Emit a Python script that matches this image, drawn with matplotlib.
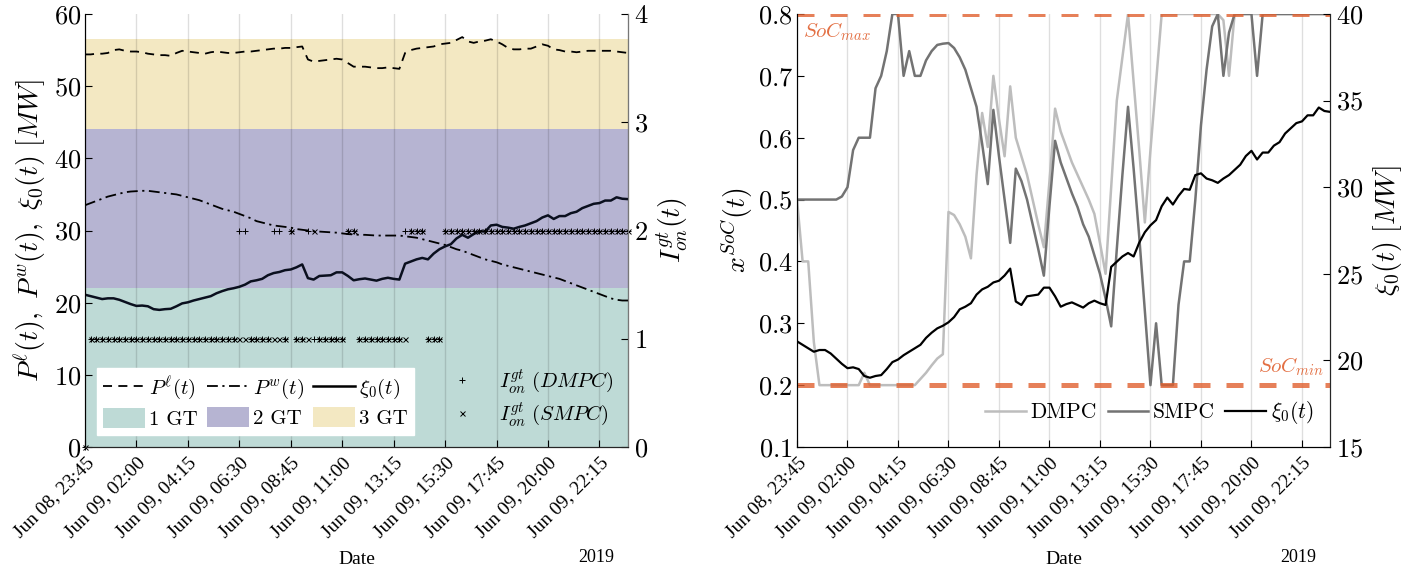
import matplotlib
matplotlib.use("Agg")
import matplotlib.pyplot as plt
from matplotlib.lines import Line2D
from matplotlib.patches import Patch
import pandas as pd

plt.rcParams['font.family'] = 'cmr10'
plt.rcParams['mathtext.fontset'] = 'cm'
plt.rcParams['axes.formatter.use_mathtext'] = True

# 15-minute samples over one day
times = pd.date_range('2019-06-08 23:45', periods=96, freq='15min')
tick_labels = ['Jun 08, 23:45', 'Jun 09, 02:00', 'Jun 09, 04:15', 'Jun 09, 06:30',
               'Jun 09, 08:45', 'Jun 09, 11:00', 'Jun 09, 13:15', 'Jun 09, 15:30',
               'Jun 09, 17:45', 'Jun 09, 20:00', 'Jun 09, 22:15']

# Load demand P^l [MW]
p_load = [54.4, 54.4, 54.5, 54.5, 54.6, 55.0, 55.1, 54.9, 54.8, 54.8, 54.7, 54.5,
          54.4, 54.3, 54.3, 54.2, 54.6, 54.9, 54.8, 54.7, 54.6, 54.5, 54.7, 54.8,
          54.7, 54.6, 54.6, 54.7, 54.8, 54.8, 54.9, 55.0, 55.1, 55.2, 55.2, 55.3,
          55.3, 55.4, 55.5, 53.7, 53.4, 53.5, 53.6, 53.7, 53.8, 53.7, 53.2, 52.7,
          52.7, 52.7, 52.6, 52.5, 52.5, 52.6, 52.5, 52.4, 54.6, 55.0, 55.2, 55.3,
          55.4, 55.5, 55.8, 55.9, 56.0, 56.4, 56.8, 56.2, 56.0, 56.2, 56.3, 56.5,
          56.2, 55.8, 55.3, 55.1, 55.1, 55.2, 55.2, 55.5, 55.8, 55.6, 55.1, 55.0,
          54.8, 54.8, 54.7, 54.8, 54.9, 54.9, 54.9, 54.9, 54.9, 54.8, 54.7, 54.6]

# Wind power P^w [MW]
p_wind = [33.5, 33.8, 34.1, 34.4, 34.7, 34.9, 35.1, 35.3, 35.4, 35.45, 35.5, 35.5,
          35.4, 35.3, 35.2, 35.1, 35.0, 34.8, 34.6, 34.4, 34.2, 33.9, 33.6, 33.3,
          33.0, 32.8, 32.6, 32.3, 32.0, 31.7, 31.3, 31.1, 30.9, 30.7, 30.6, 30.5,
          30.4, 30.2, 30.1, 30.0, 29.9, 29.85, 29.8, 29.75, 29.7, 29.6, 29.5, 29.45,
          29.4, 29.4, 29.35, 29.3, 29.3, 29.3, 29.3, 29.3, 29.2, 29.1, 29.0, 28.8,
          28.6, 28.4, 28.2, 28.0, 27.7, 27.4, 27.2, 26.9, 26.6, 26.3, 26.0, 25.8,
          25.6, 25.3, 25.1, 24.9, 24.7, 24.5, 24.3, 24.1, 23.9, 23.7, 23.5, 23.3,
          23.0, 22.7, 22.4, 22.1, 21.8, 21.5, 21.2, 20.9, 20.6, 20.4, 20.3, 20.3]

# Net load xi_0 [MW]
xi0 = [21.1, 20.9, 20.7, 20.5, 20.6, 20.6, 20.4, 20.1, 19.8, 19.55, 19.6, 19.5,
       19.1, 19.0, 19.1, 19.15, 19.5, 19.9, 20.05, 20.3, 20.5, 20.7, 20.9, 21.3,
       21.6, 21.85, 22.0, 22.2, 22.5, 22.95, 23.1, 23.3, 23.8, 24.1, 24.25, 24.5,
       24.6, 24.9, 25.3, 23.4, 23.2, 23.7, 23.75, 23.8, 24.2, 24.2, 23.7, 23.1,
       23.25, 23.35, 23.2, 23.05, 23.3, 23.45, 23.3, 23.2, 25.4, 25.7, 26.0, 26.2,
       26.0, 26.8, 27.4, 27.8, 28.1, 28.9, 29.4, 29.0, 29.5, 29.9, 29.85, 30.7,
       30.8, 30.5, 30.4, 30.25, 30.5, 30.7, 31.0, 31.3, 31.8, 32.1, 31.6, 32.0,
       32.0, 32.4, 32.6, 33.1, 33.4, 33.7, 33.8, 34.15, 34.15, 34.6, 34.4, 34.35]

# Number of gas turbines on
on_dmpc = [0, 1, 1, 1, 1, 1, 1, 1, 1, 1, 1, 1, 1, 1, 1, 1, 1, 1, 1, 1, 1, 1, 1, 1,
           1, 1, 1, 2, 2, 1, 1, 1, 1, 2, 2, 1, 2, 1, 1, 2, 1, 1, 1, 1, 1, 1, 2, 2,
           1, 1, 1, 1, 1, 1, 1, 1, 2, 2, 2, 2, 1, 1, 1, 2, 2, 2, 2, 2, 2, 2, 2, 2,
           2, 2, 2, 2, 2, 2, 2, 2, 2, 2, 2, 2, 2, 2, 2, 2, 2, 2, 2, 2, 2, 2, 2, 2]
on_smpc = [0, 1, 1, 1, 1, 1, 1, 1, 1, 1, 1, 1, 1, 1, 1, 1, 1, 1, 1, 1, 1, 1, 1, 1,
           1, 1, 1, 1, 1, 1, 1, 1, 1, 1, 1, 1, 2, 1, 1, 1, 2, 1, 1, 1, 1, 1, 2, 2,
           1, 1, 1, 1, 1, 1, 1, 1, 1, 2, 2, 2, 1, 1, 1, 2, 2, 2, 2, 2, 2, 2, 2, 2,
           2, 2, 2, 2, 2, 2, 2, 2, 2, 2, 2, 2, 2, 2, 2, 2, 2, 2, 2, 2, 2, 2, 2, 2]

# Battery state of charge
soc_dmpc = [0.50, 0.40, 0.40, 0.27, 0.20, 0.20, 0.20, 0.20, 0.20, 0.20, 0.20, 0.20,
            0.22, 0.20, 0.20, 0.20, 0.20, 0.20, 0.20, 0.20, 0.20, 0.20, 0.21, 0.22,
            0.232, 0.243, 0.25, 0.48, 0.475, 0.46, 0.44, 0.405, 0.54, 0.64, 0.585, 0.70,
            0.63, 0.57, 0.683, 0.60, 0.57, 0.54, 0.50, 0.46, 0.423, 0.53, 0.647, 0.61,
            0.585, 0.56, 0.54, 0.52, 0.50, 0.477, 0.43, 0.38, 0.52, 0.66, 0.73, 0.80,
            0.69, 0.58, 0.463, 0.58, 0.69, 0.80, 0.80, 0.80, 0.80, 0.80, 0.80, 0.80,
            0.80, 0.80, 0.80, 0.80, 0.79, 0.70, 0.80, 0.80, 0.80, 0.80, 0.80, 0.80,
            0.80, 0.80, 0.80, 0.80, 0.80, 0.80, 0.80, 0.80, 0.80, 0.80, 0.80, 0.80]
soc_smpc = [0.50, 0.50, 0.50, 0.50, 0.50, 0.50, 0.50, 0.50, 0.505, 0.52, 0.58, 0.60,
            0.60, 0.60, 0.68, 0.70, 0.74, 0.80, 0.80, 0.70, 0.74, 0.70, 0.70, 0.725,
            0.74, 0.75, 0.752, 0.753, 0.745, 0.73, 0.71, 0.68, 0.65, 0.59, 0.525, 0.645,
            0.57, 0.50, 0.43, 0.55, 0.53, 0.50, 0.46, 0.42, 0.377, 0.49, 0.595, 0.56,
            0.535, 0.51, 0.488, 0.46, 0.44, 0.41, 0.38, 0.34, 0.295, 0.42, 0.54, 0.65,
            0.55, 0.44, 0.32, 0.20, 0.30, 0.20, 0.20, 0.20, 0.33, 0.40, 0.40, 0.50,
            0.62, 0.71, 0.78, 0.80, 0.70, 0.77, 0.80, 0.80, 0.80, 0.80, 0.70, 0.80,
            0.80, 0.80, 0.80, 0.80, 0.80, 0.80, 0.80, 0.80, 0.80, 0.80, 0.80, 0.80]

soc_min, soc_max = 0.2, 0.8
gt_bands = [(0, 22), (22, 44), (44, 56.5)]
gt_labels = ['1 GT', '2 GT', '3 GT']
gt_colors = ['#bedad6', '#b6b4d2', '#f3e8c2']

tick_times = times[::9]
orange = '#e0602f'
serif = 'Liberation Serif'
TICK_FS = 19


def style_date_axis(ax):
    ax.set_xlim(times[0], times[-1])
    ax.set_xticks(tick_times)
    ax.set_xticklabels(tick_labels, rotation=45, ha='right', va='top',
                       rotation_mode='anchor', fontfamily=serif, fontsize=14)
    ax.tick_params(axis='x', direction='in', length=5, width=0.8, pad=5)
    ax.set_xlabel('Date', fontfamily=serif, fontsize=14, labelpad=7)
    for t in tick_times:
        ax.axvline(t, color='k', alpha=0.13, lw=1, zorder=1.5)


fig = plt.figure(figsize=(14.25, 5.75), dpi=100)
ax1 = fig.add_axes([85 / 1425, 128 / 575, 543 / 1425, 433 / 575])
ax1r = ax1.twinx()
ax2 = fig.add_axes([797 / 1425, 128 / 575, 533 / 1425, 433 / 575])
ax2r = ax2.twinx()

# ---------- left panel: powers and turbines ----------
for (lo, hi), c in zip(gt_bands, gt_colors):
    ax1.axhspan(lo, hi, color=c, lw=0, zorder=1)
ax1.plot(times, p_load, color='k', lw=1.3, dashes=(5, 3.5), zorder=3)
ax1.plot(times, p_wind, color='k', lw=1.3, dashes=(6, 2.5, 1.2, 2.5), zorder=3)
ax1.plot(times, xi0, color='#0a0f1e', lw=1.8, zorder=3)
ax1.set_ylim(0, 60)
ax1.set_yticks(range(0, 61, 10))
style_date_axis(ax1)
ax1.tick_params(axis='y', direction='in', length=5, width=0.8, labelsize=TICK_FS, pad=3)
ax1.set_ylabel(r'$P^{\ell}(t),\ P^{w}(t),\ \xi_0(t)\ [MW]$', fontsize=20, labelpad=4)

ax1r.plot(times, on_dmpc, ls='none', marker='+', ms=5, mew=0.7, color='k', clip_on=False)
ax1r.plot(times, on_smpc, ls='none', marker='x', ms=3.6, mew=0.7, color='k', clip_on=False)
ax1r.set_ylim(0, 4)
ax1r.set_yticks(range(0, 5))
ax1r.tick_params(axis='y', direction='in', length=5, width=0.8, labelsize=TICK_FS, pad=4)
ax1r.set_ylabel(r'$I^{gt}_{on}(t)$', fontsize=20, labelpad=6)

for a in (ax1, ax1r):
    a.spines['top'].set_visible(False)
ax1.spines['left'].set_color('#262626')
ax1r.spines['right'].set_color('#777777')
ax1r.spines['bottom'].set_color('#262626')

line_handles = [Line2D([], [], color='k', lw=1.3, dashes=(5, 3.5)),
                Line2D([], [], color='k', lw=1.3, dashes=(6, 2.5, 1.2, 2.5)),
                Line2D([], [], color='k', lw=1.8)]
line_labels = [r'$P^{\ell}(t)$', r'$P^{w}(t)$', r'$\xi_0(t)$']
patch_handles = [Patch(facecolor=c, edgecolor='none') for c in gt_colors]
handles, labels = [], []
for h, l, p, pl in zip(line_handles, line_labels, patch_handles, gt_labels):
    handles += [h, p]
    labels += [l, pl]
leg1 = ax1r.legend(handles, labels, ncol=3, loc='lower left',
                   bbox_to_anchor=(0.022, 0.028), borderaxespad=0, fontsize=15,
                   frameon=True, fancybox=False, framealpha=1, edgecolor='white',
                   handlelength=2.0, handleheight=1.1, handletextpad=0.2,
                   columnspacing=0.45, labelspacing=0.25, borderpad=0.3)
ax1r.add_artist(leg1)
marker_handles = [Line2D([], [], ls='none', marker='+', ms=5, mew=0.7, color='k'),
                  Line2D([], [], ls='none', marker='x', ms=3.6, mew=0.7, color='k')]
ax1r.legend(marker_handles, [r'$I^{gt}_{on}\ (DMPC)$', r'$I^{gt}_{on}\ (SMPC)$'],
            loc='lower right', bbox_to_anchor=(0.985, 0.028), borderaxespad=0,
            frameon=False, fontsize=15, handletextpad=0.8, labelspacing=0.25,
            borderpad=0.3)

# ---------- right panel: battery state of charge ----------
ax2.plot(times, soc_dmpc, color='#bdbdbd', lw=1.8, zorder=2)
ax2.plot(times, soc_smpc, color='#737373', lw=1.8, zorder=2.1)
for lvl in (soc_min, soc_max):
    ax2.axhline(lvl, color=orange, alpha=0.8, lw=3.6, dashes=(3.4, 3.2), zorder=3)
ax2.text(0.011, 0.985, r'$SoC_{max}$', transform=ax2.transAxes, color=orange,
         fontsize=15, ha='left', va='top', alpha=0.9)
ax2.text(0.988, soc_min + 0.012, r'$SoC_{min}$',
         transform=ax2.get_yaxis_transform(), color=orange,
         fontsize=15, ha='right', va='bottom', alpha=0.9)
ax2.set_ylim(0.1, 0.8)
ax2.set_yticks([0.1, 0.2, 0.3, 0.4, 0.5, 0.6, 0.7, 0.8])
style_date_axis(ax2)
ax2.tick_params(axis='y', direction='in', length=5, width=0.8, labelsize=TICK_FS, pad=3)
ax2.set_ylabel(r'$x^{SoC}(t)$', fontsize=20, labelpad=2)

ax2r.plot(times, xi0, color='k', lw=1.6)
ax2r.set_ylim(15, 40)
ax2r.set_yticks(range(15, 41, 5))
ax2r.tick_params(axis='y', direction='in', length=5, width=0.8, labelsize=TICK_FS, pad=4)
ax2r.set_ylabel(r'$\xi_0(t)\ [MW]$', fontsize=20, labelpad=6)
for a in (ax2, ax2r):
    a.spines['top'].set_visible(False)
ax2.spines['left'].set_color('#262626')
ax2r.spines['right'].set_color('#262626')

soc_handles = [Line2D([], [], color='#bdbdbd', lw=1.8),
               Line2D([], [], color='#737373', lw=1.8),
               Line2D([], [], color='k', lw=1.6)]
ax2r.legend(soc_handles, ['DMPC', 'SMPC', r'$\xi_0(t)$'], ncol=3, loc='lower right',
            bbox_to_anchor=(0.985, 0.028), borderaxespad=0, frameon=False,
            fontsize=15.5, handlelength=1.9, handletextpad=0.2, columnspacing=0.5)

fig.text(596 / 1425, 1 - 557 / 575, '2019', ha='center', va='center',
         fontfamily=serif, fontsize=13)
fig.text(1298 / 1425, 1 - 557 / 575, '2019', ha='center', va='center',
         fontfamily=serif, fontsize=13)

fig.savefig('out.png', dpi=100)
